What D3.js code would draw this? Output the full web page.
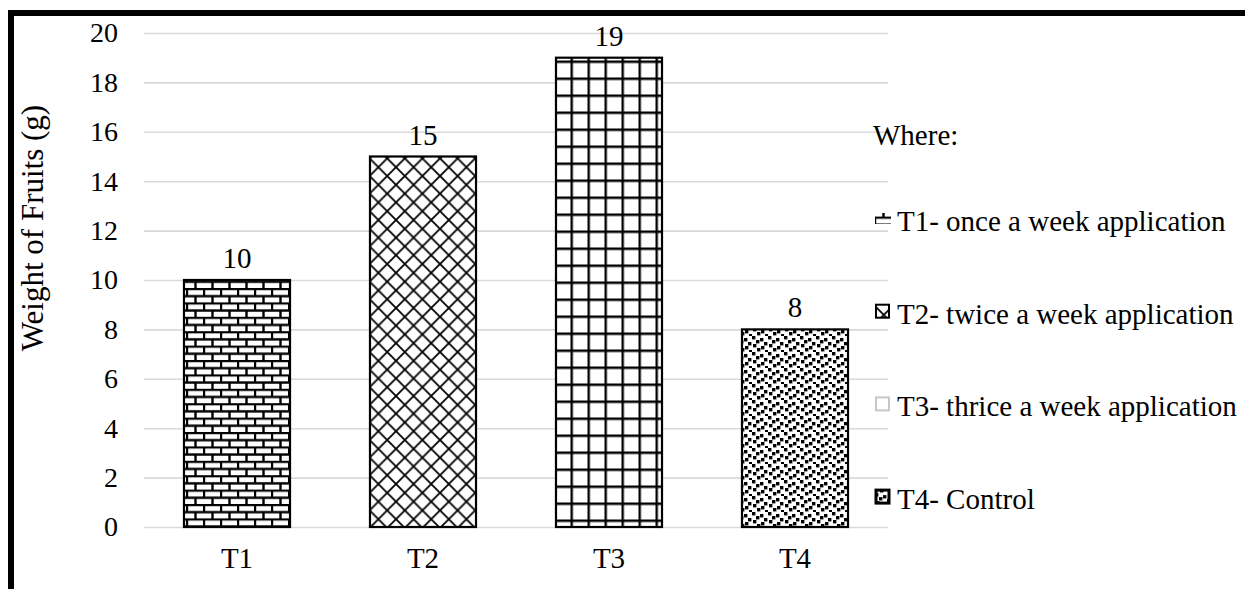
<!DOCTYPE html>
<html>
<head>
<meta charset="utf-8">
<script src="https://cdn.jsdelivr.net/npm/d3@7/dist/d3.min.js"></script>
<style>
  html, body { margin: 0; padding: 0; background: #fff; }
</style>
</head>
<body>
<div id="chart"></div>
<script>
const categories = ['T1', 'T2', 'T3', 'T4'];
const weights = [10, 15, 19, 8];
const yTicks = [0, 2, 4, 6, 8, 10, 12, 14, 16, 18, 20];
const legendTitle = 'Where:';
const legendLabels = [
  'T1- once a week application',
  'T2- twice a week application',
  'T3- thrice a week application',
  'T4- Control'
];
const yTitle = 'Weight of Fruits (g)';
const patternIds = ['brick', 'diagcross', 'grid', 'confetti'];

const FONT = '"Liberation Serif", "Times New Roman", Times, serif';
const W = 1245, H = 589;
const M = { t: 33, r: 357, b: 62, l: 144 };

const svg = d3.select('#chart').append('svg')
  .attr('width', W).attr('height', H)
  .style('display', 'block')
  .style('font-family', FONT);

// fill patterns
const defs = svg.append('defs');

const brick = defs.append('pattern').attr('id', 'brick')
  .attr('patternUnits', 'userSpaceOnUse')
  .attr('width', 17).attr('height', 14.4)
  .attr('x', 186).attr('y', 0);
brick.append('rect').attr('width', 17).attr('height', 14.4).attr('fill', '#fff');
brick.append('path')
  .attr('d', 'M0,1 H17 M0,8.2 H17 M1,1 V8.2 M9.5,8.2 V15.4')
  .attr('stroke', '#000').attr('stroke-width', 2.4).attr('fill', 'none');

const dc = defs.append('pattern').attr('id', 'diagcross')
  .attr('patternUnits', 'userSpaceOnUse')
  .attr('width', 17.6).attr('height', 17.6);
dc.append('rect').attr('width', 17.6).attr('height', 17.6).attr('fill', '#fff');
dc.append('path')
  .attr('d', 'M0,0 L17.6,17.6 M17.6,0 L0,17.6')
  .attr('stroke', '#000').attr('stroke-width', 1.8).attr('fill', 'none');

const grid = defs.append('pattern').attr('id', 'grid')
  .attr('patternUnits', 'userSpaceOnUse')
  .attr('width', 17).attr('height', 17)
  .attr('x', 570.5).attr('y', 9.5);
grid.append('rect').attr('width', 17).attr('height', 17).attr('fill', '#fff');
grid.append('path')
  .attr('d', 'M1.2,0 V17 M0,1.2 H17')
  .attr('stroke', '#000').attr('stroke-width', 2.4).attr('fill', 'none');

const conf = defs.append('pattern').attr('id', 'confetti')
  .attr('patternUnits', 'userSpaceOnUse')
  .attr('width', 16).attr('height', 16);
conf.append('rect').attr('width', 16).attr('height', 16).attr('fill', '#fff');
[[1, 1], [9, 3], [5, 5], [13, 7], [2, 9], [10, 11], [6, 13], [14, 15]].forEach(p => {
  conf.append('rect')
    .attr('x', p[0] - 1).attr('y', p[1] - 1)
    .attr('width', 3.4).attr('height', 3.4)
    .attr('fill', '#000');
});

// scales
const x = d3.scaleBand()
  .domain(categories)
  .range([M.l, W - M.r])
  .paddingInner(0.43)
  .paddingOuter(0.215);

const y = d3.scaleLinear()
  .domain([0, 20])
  .range([H - M.b, M.t]);

// gridlines
svg.append('g')
  .attr('transform', `translate(${M.l},0)`)
  .call(d3.axisLeft(y).tickValues(yTicks).tickSize(-(W - M.r - M.l)).tickFormat(''))
  .call(g => g.select('.domain').remove())
  .call(g => g.selectAll('line').attr('stroke', '#d9d9d9').attr('stroke-width', 1.6));

// y tick labels
svg.append('g')
  .attr('transform', `translate(${M.l},0)`)
  .call(d3.axisLeft(y).tickValues(yTicks).tickSize(0).tickPadding(26))
  .call(g => g.attr('font-family', FONT).attr('font-size', 28))
  .call(g => g.select('.domain').remove())
  .call(g => g.selectAll('text')
    .style('font-family', FONT)
    .style('font-size', '28px')
    .attr('fill', '#000'));

// x tick labels
svg.append('g')
  .attr('transform', `translate(0,${y(0)})`)
  .call(d3.axisBottom(x).tickSize(0).tickPadding(20))
  .call(g => g.attr('font-family', FONT).attr('font-size', 29))
  .call(g => g.select('.domain').remove())
  .call(g => g.selectAll('text')
    .style('font-family', FONT)
    .style('font-size', '29px')
    .attr('fill', '#000'));

// bars
const rows = categories.map((c, i) => ({ c, v: weights[i], p: patternIds[i] }));

svg.selectAll('rect.bar')
  .data(rows)
  .enter().append('rect')
  .attr('class', 'bar')
  .attr('x', d => x(d.c))
  .attr('y', d => y(d.v))
  .attr('width', x.bandwidth())
  .attr('height', d => y(0) - y(d.v))
  .attr('fill', d => `url(#${d.p})`)
  .attr('stroke', '#000')
  .attr('stroke-width', 2.2);

// data labels
svg.selectAll('text.lbl')
  .data(rows)
  .enter().append('text')
  .attr('class', 'lbl')
  .attr('x', d => x(d.c) + x.bandwidth() / 2)
  .attr('y', d => y(d.v) - 12)
  .attr('text-anchor', 'middle')
  .style('font-family', FONT)
  .style('font-size', '29px')
  .text(d => d.v);

// y title
svg.append('text')
  .attr('transform', 'translate(43,228) rotate(-90)')
  .attr('text-anchor', 'middle')
  .style('font-family', FONT)
  .style('font-size', '31px')
  .text(yTitle);

// legend
svg.append('text')
  .attr('x', 873).attr('y', 145)
  .style('font-family', FONT)
  .style('font-size', '29px')
  .text(legendTitle);

const leg = svg.append('g').selectAll('g')
  .data(legendLabels)
  .enter().append('g')
  .attr('transform', (d, i) => `translate(875,${231 + i * 92.7})`);

// excel-like swatches: brick scrap, boxed patterns, faint empty box
leg.append('rect')
  .attr('x', (d, i) => i === 0 ? 0 : 1)
  .attr('y', (d, i) => i === 0 ? -18 : -19)
  .attr('width', (d, i) => i === 0 ? 16 : 13)
  .attr('height', (d, i) => i === 0 ? 11 : 13)
  .attr('fill', (d, i) => i === 2 ? '#fff' : `url(#${patternIds[i]})`)
  .attr('stroke', (d, i) => i === 0 ? 'none' : (i === 2 ? '#c8c8c8' : '#000'))
  .attr('stroke-width', (d, i) => i === 3 ? 3 : 2);

leg.append('text')
  .attr('x', 22).attr('y', 0)
  .style('font-family', FONT)
  .style('font-size', '29px')
  .text(d => d);

// frame (top and left edges of the original border)
svg.append('path')
  .attr('d', `M11,${H} V13 H${W}`)
  .attr('fill', 'none')
  .attr('stroke', '#000')
  .attr('stroke-width', 6);
</script>
</body>
</html>
